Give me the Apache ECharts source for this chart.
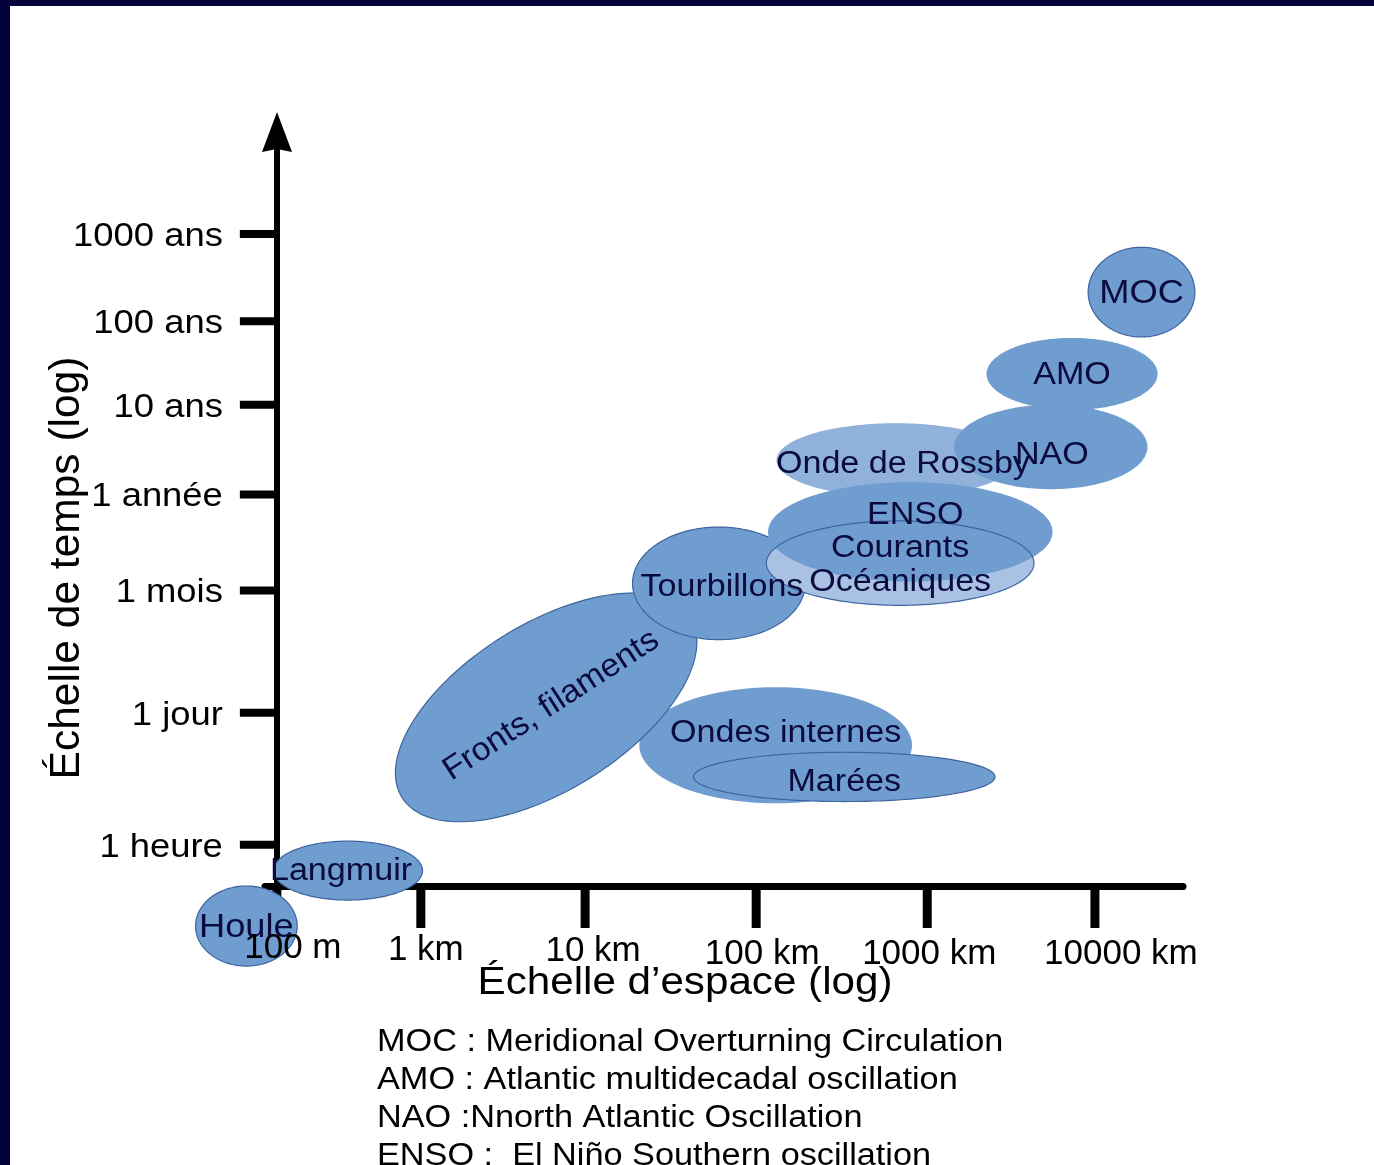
<!DOCTYPE html>
<html><head><meta charset="utf-8">
<script src="https://cdn.jsdelivr.net/npm/echarts@6/dist/echarts.min.js"></script>
<style>html,body{margin:0;padding:0;background:#fff}#c{width:1374px;height:1165px}</style>
</head><body><div id="c"></div>
<script>
// ---------- DATA (log10 metres on x, log10 hours on y) ----------
const xTickLabels = ['100 m', '1 km', '10 km', '100 km', '1000 km', '10000 km'];
const xTickValues = [2.15, 3, 3.97, 4.98, 5.99, 6.98];
const yTickLabels = ['1 heure', '1 jour', '1 mois', '1 année', '10 ans', '100 ans', '1000 ans'];
const yTickValues = [0, 1.5, 2.89, 3.98, 5.0, 5.95, 6.94];

// processes, in drawing order
const procNames = ['Onde de Rossby', 'NAO', 'AMO', 'MOC', 'Ondes internes', 'Marées',
  'Fronts, filaments', 'Tourbillons', 'Courants\nOcéaniques', 'ENSO', 'Langmuir', 'Houle'];
const procXMin = [5.10, 6.15, 6.34, 6.94, 4.29, 4.61, 2.85, 4.25, 5.04, 5.05, 2.13, 1.67];
const procXMax = [6.51, 7.29, 7.35, 7.57, 5.90, 6.39, 4.63, 5.27, 6.62, 6.73, 3.01, 2.27];
const procYMin = [3.95, 4.04, 4.94, 5.77, 0.47, 0.49, 0.26, 2.33, 2.72, 2.99, -0.63, -1.38];
const procYMax = [4.79, 5.00, 5.76, 6.79, 1.79, 1.05, 2.86, 3.61, 3.68, 4.12, 0.04, -0.47];
const procTilt = [0, 0, 0, 0, 0, 0, 32, 0, 0, 0, 0, 0]; // degrees

const notes = ['MOC : Meridional Overturning Circulation',
  'AMO : Atlantic multidecadal oscillation',
  'NAO :Nnorth Atlantic Oscillation',
  'ENSO :  El Niño Southern oscillation'];

// ---------- STYLE / LAYOUT ----------
const FONT = '"Liberation Sans", Arial, sans-serif';
const BLUE = '#709dcf', LIGHT1 = '#8fb1da', LIGHT2 = '#a9c2e4', EDGE = '#3d649f', INK = '#0b0b3d';
const TDY = 2;
const procStyle = {
  'Onde de Rossby': {fill: LIGHT1}, 'NAO': {fill: BLUE}, 'AMO': {fill: BLUE},
  'MOC': {fill: BLUE, stroke: EDGE}, 'Ondes internes': {fill: BLUE}, 'Marées': {fill: BLUE, stroke: EDGE},
  'Fronts, filaments': {fill: BLUE, stroke: EDGE}, 'Tourbillons': {fill: BLUE, stroke: EDGE},
  'Courants\nOcéaniques': {fill: LIGHT2, lateStroke: EDGE}, 'ENSO': {fill: BLUE},
  'Langmuir': {fill: BLUE, stroke: EDGE}, 'Houle': {fill: BLUE, stroke: EDGE}
};
const labelShift = {'NAO': [1, 6], 'Onde de Rossby': [7, 2], 'ENSO': [5, -18], 'Tourbillons': [3, 2],
  'Fronts, filaments': [5, -4], 'Ondes internes': [10, -14], 'Marées': [0, 4], 'Langmuir': [-7, -1],
  'Courants\nOcéaniques': [0, 0]};
const labelSize = {'MOC': 33, 'Fronts, filaments': 32.5, 'Houle': 33};
const xLabelDx = [16, 5, 8, 6, 2, 26], xLabelDy = [-2, 0, 1, 4, 4, 4];
const xTickLen = [10, 42, 42, 42, 42, 42];
const yAxisAt = 2.15;

const chart = echarts.init(document.getElementById('c'));

function ellGeom(api) {
  const p0 = api.coord([api.value(0), api.value(2)]);
  const p1 = api.coord([api.value(1), api.value(3)]);
  const cx = (p0[0] + p1[0]) / 2, cy = (p0[1] + p1[1]) / 2;
  const W = Math.abs(p1[0] - p0[0]) / 2, H = Math.abs(p1[1] - p0[1]) / 2;
  const phi = api.value(5) * Math.PI / 180;
  let a = W, b = H;
  if (phi) {
    const c2 = Math.cos(phi) ** 2, s2 = Math.sin(phi) ** 2;
    a = Math.sqrt((W * W * c2 - H * H * s2) / (c2 - s2));
    b = Math.sqrt((H * H * c2 - W * W * s2) / (c2 - s2));
  }
  const pts = [], c = Math.cos(phi), s = Math.sin(phi);
  for (let k = 0; k < 180; k++) {
    const t = k / 180 * 2 * Math.PI, u = a * Math.cos(t), v = b * Math.sin(t);
    pts.push([cx + u * c + v * s, cy - u * s + v * c]);
  }
  return {cx, cy, pts, phi};
}

const procData = procNames.map((n, i) => [procXMin[i], procXMax[i], procYMin[i], procYMax[i], i, procTilt[i]]);

const option = {
  backgroundColor: '#ffffff',
  animation: false,
  grid: {left: 265, right: 191, top: 132, bottom: 279},
  xAxis: {type: 'value', min: 2.08, max: 7.5,
    axisLine: {onZero: false, lineStyle: {color: '#000', width: 7}},
    axisTick: {show: false}, axisLabel: {show: false}, splitLine: {show: false}},
  yAxis: {type: 'value', min: -0.47, max: 8.1, offset: -12,
    axisLine: {onZero: false, symbol: ['none', 'path://M15,0 L30,40 L15,37 L0,40 Z'], symbolSize: [30, 40],
      lineStyle: {color: '#000', width: 6}},
    axisTick: {show: false}, axisLabel: {show: false}, splitLine: {show: false}},
  graphic: [
    {type: 'rect', shape: {x: 0, y: 0, width: 1374, height: 6}, style: {fill: '#03023a'}, z: 100},
    {type: 'rect', shape: {x: 0, y: 0, width: 10, height: 1165}, style: {fill: '#03023a'}, z: 100},
    {type: 'text', x: 685, y: 984, scaleX: 1.11, z: 50,
      style: {text: 'Échelle d’espace (log)', fontSize: 38, fontFamily: FONT, fill: '#000', align: 'center', verticalAlign: 'middle'}},
    {type: 'text', x: 67, y: 568, rotation: Math.PI / 2, z: 50,
      style: {text: 'Échelle de temps (log)', fontSize: 42.5, fontFamily: FONT, fill: '#000', align: 'center', verticalAlign: 'middle'}}
  ].concat(notes.map((t, i) => ({type: 'text', x: 377, y: 1042 + i * 38, scaleX: 1.105, z: 50,
      style: {text: t, fontSize: 31, fontFamily: FONT, fill: '#000', align: 'left', verticalAlign: 'middle'}}))),
  series: [
    { // y tick marks
      type: 'custom', z: 2, encode: {x: 0, y: 1},
      data: yTickValues.map((v, i) => [yAxisAt, v, i]),
      renderItem: (p, api) => {
        const pt = api.coord([api.value(0), api.value(1)]);
        return {type: 'rect', shape: {x: pt[0] - 37, y: pt[1] - 4, width: 37, height: 8}, style: {fill: '#000'}};
      }
    },
    { // x tick marks
      type: 'custom', z: 2, encode: {x: 0, y: 1},
      data: xTickValues.map((v, i) => [v, -0.47, i]),
      renderItem: (p, api) => {
        const pt = api.coord([api.value(0), api.value(1)]);
        const i = api.value(2);
        return {type: 'rect', shape: {x: pt[0] - 4.5, y: pt[1], width: 9, height: xTickLen[i]}, style: {fill: '#000'}};
      }
    },
    { // process ellipses
      type: 'custom', z: 3, clip: false, encode: {x: [0, 1], y: [2, 3]},
      data: procData,
      renderItem: (p, api) => {
        const g = ellGeom(api), st = procStyle[procNames[api.value(4)]];
        return {type: 'polygon', shape: {points: g.pts},
          style: {fill: st.fill, stroke: st.stroke || null, lineWidth: st.stroke ? 1.2 : 0}};
      }
    },
    { // outlines drawn over later shapes
      type: 'custom', z: 4, clip: false, encode: {x: [0, 1], y: [2, 3]},
      data: procData.filter(d => procStyle[procNames[d[4]]].lateStroke),
      renderItem: (p, api) => {
        const g = ellGeom(api), st = procStyle[procNames[api.value(4)]];
        return {type: 'polygon', shape: {points: g.pts}, style: {fill: null, stroke: st.lateStroke, lineWidth: 1.2}};
      }
    },
    { // process labels
      type: 'custom', z: 6, clip: false, encode: {x: [0, 1], y: [2, 3]},
      data: procData,
      renderItem: (p, api) => {
        const g = ellGeom(api), name = procNames[api.value(4)], sh = labelShift[name] || [0, 0];
        return {type: 'text', x: g.cx + sh[0], y: g.cy + sh[1] + TDY, rotation: g.phi ? g.phi + 1 * Math.PI / 180 : 0,
          scaleX: g.phi ? 1.04 : 1.1,
          style: {text: name, fontSize: labelSize[name] || 31, lineHeight: 34, fontFamily: FONT, fill: INK,
            align: 'center', verticalAlign: 'middle'}};
      }
    },
    { // y tick labels
      type: 'custom', z: 6, clip: false, encode: {x: 0, y: 1},
      data: yTickValues.map((v, i) => [yAxisAt, v, i]),
      renderItem: (p, api) => {
        const pt = api.coord([api.value(0), api.value(1)]);
        return {type: 'text', x: pt[0] - 54, y: pt[1] + TDY + 1, scaleX: 1.12,
          style: {text: yTickLabels[api.value(2)], fontSize: 32.5, fontFamily: FONT, fill: '#000',
            align: 'right', verticalAlign: 'middle'}};
      }
    },
    { // x tick labels
      type: 'custom', z: 6, clip: false, encode: {x: 0, y: 1},
      data: xTickValues.map((v, i) => [v, -0.47, i]),
      renderItem: (p, api) => {
        const pt = api.coord([api.value(0), api.value(1)]);
        const i = api.value(2);
        return {type: 'text', x: pt[0] + xLabelDx[i], y: pt[1] + 62 + xLabelDy[i] + TDY,
          style: {text: xTickLabels[i], fontSize: 35, fontFamily: FONT, fill: '#000',
            align: 'center', verticalAlign: 'middle'}};
      }
    }
  ]
};
chart.setOption(option);
</script></body></html>
